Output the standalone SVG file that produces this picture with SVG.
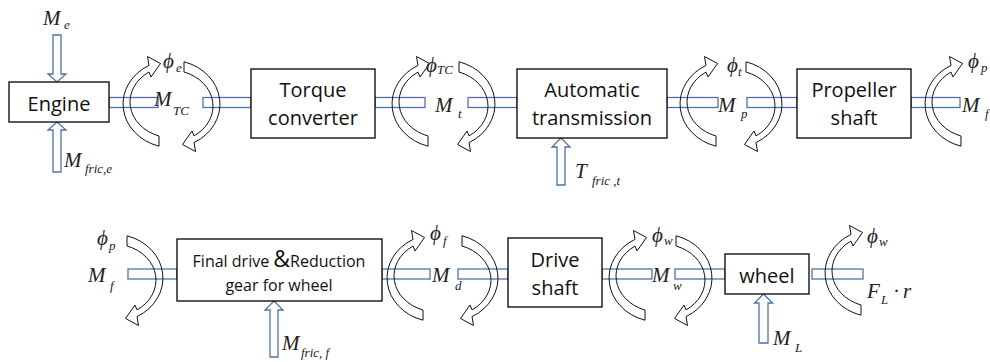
<svg xmlns="http://www.w3.org/2000/svg" xmlns:xlink="http://www.w3.org/1999/xlink" width="990" height="362" viewBox="0 0 990 362">
<style>
.box{fill:#fff;stroke:#000;stroke-width:1.3}
.shaft{fill:none;stroke:#4f73a8;stroke-width:1.3}
.rot{fill:none;stroke:#111;stroke-width:1}
.in{fill:#fff;stroke:#4f73a8;stroke-width:1.3}
.t{font-family:"Open Sans","Liberation Sans",sans-serif;font-size:20px;fill:#111;text-anchor:middle}
.t2{font-family:"Open Sans","Liberation Sans",sans-serif;font-size:16px;fill:#111;text-anchor:middle}
.m{font-family:"Liberation Serif","DejaVu Serif",serif;font-style:italic;font-size:21px;fill:#222}
.s{font-size:13px}
</style>
<defs>
<path id="arcL" d="M -14 42.2 A 50 44 0 0 1 -24 -38.6 L -25.5 -47.5 L -12.5 -40.5 L -22 -27 L -24 -31.9 A 43 36 0 0 0 -14 32 Z"/>
</defs>
<rect width="990" height="362" fill="#fff"/>

<g id="connectors">
  <g id="shafts" class="shaft">
    <rect x="109" y="97.5" width="49" height="10"/>
    <rect x="203" y="97.5" width="48" height="10"/>
    <rect x="375" y="97.5" width="50" height="10"/>
    <rect x="468" y="97.5" width="49" height="10"/>
    <rect x="667" y="97.5" width="51" height="10"/>
    <rect x="747" y="97.5" width="50" height="10"/>
    <rect x="911" y="97.5" width="49" height="10"/>
    <rect x="128" y="269" width="49" height="10"/>
    <rect x="382" y="269" width="48" height="10"/>
    <rect x="458" y="269" width="50" height="10"/>
    <rect x="602" y="269" width="50" height="10"/>
    <rect x="675" y="269" width="50" height="10"/>
    <rect x="812" y="269" width="51" height="10"/>
  </g>
  <g id="rotations" class="rot">
    <use xlink:href="#arcL" transform="translate(173,104)"/>
    <use xlink:href="#arcL" transform="translate(170,104) rotate(180)"/>
    <use xlink:href="#arcL" transform="translate(442,104)"/>
    <use xlink:href="#arcL" transform="translate(445,104) rotate(180)"/>
    <use xlink:href="#arcL" transform="translate(730,104)"/>
    <use xlink:href="#arcL" transform="translate(732,104) rotate(180)"/>
    <use xlink:href="#arcL" transform="translate(975,104)"/>
    <use xlink:href="#arcL" transform="translate(113,278) rotate(180)"/>
    <use xlink:href="#arcL" transform="translate(437,278)"/>
    <use xlink:href="#arcL" transform="translate(448,278) rotate(180)"/>
    <use xlink:href="#arcL" transform="translate(659,278)"/>
    <use xlink:href="#arcL" transform="translate(662,278) rotate(180)"/>
    <use xlink:href="#arcL" transform="translate(875,273)"/>
  </g>
  <g id="inputs" class="in">
    <path d="M 53 35 H 61 V 74 H 66 L 57 82 L 48 74 H 53 Z"/>
    <path d="M 53 172 H 61 V 130 H 66 L 57 122 L 48 130 H 53 Z"/>
    <path d="M 557 185 H 565 V 147 H 570 L 561 138 L 552 147 H 557 Z"/>
    <path d="M 270 357 H 278 V 310 H 283 L 274 301 L 265 310 H 270 Z"/>
    <path d="M 759 343 H 768 V 303 H 772.5 L 763.5 294 L 754.5 303 H 759 Z"/>
  </g>
</g>

<g id="engine">
  <rect class="box" x="9" y="82" width="100" height="40"/>
  <text class="t" x="59" y="111">Engine</text>
</g>
<g id="torque-converter">
  <rect class="box" x="251" y="69" width="124" height="69"/>
  <text class="t" x="313" y="97">Torque</text>
  <text class="t" x="313" y="125">converter</text>
</g>
<g id="automatic-transmission">
  <rect class="box" x="517" y="69" width="150" height="69"/>
  <text class="t" x="592" y="97">Automatic</text>
  <text class="t" x="592" y="125">transmission</text>
</g>
<g id="propeller-shaft">
  <rect class="box" x="797" y="69" width="114" height="69"/>
  <text class="t" x="854" y="97">Propeller</text>
  <text class="t" x="854" y="125">shaft</text>
</g>
<g id="final-drive">
  <rect class="box" x="177" y="239" width="205" height="62"/>
  <text class="t2" x="279" y="267">Final drive <tspan font-size="23px">&amp;</tspan>Reduction</text>
  <text class="t2" x="279" y="291">gear for wheel</text>
</g>
<g id="drive-shaft">
  <rect class="box" x="508" y="238" width="94" height="69"/>
  <text class="t" x="555" y="267">Drive</text>
  <text class="t" x="555" y="295">shaft</text>
</g>
<g id="wheel">
  <rect class="box" x="725" y="254" width="84" height="40"/>
  <text class="t" x="767" y="283">wheel</text>
</g>

<g id="labels" class="m">
  <text x="43" y="25">M<tspan class="s" x="64" y="29">e</tspan></text>
  <text x="64" y="167">M<tspan class="s" x="85" y="173">fric,e</tspan></text>
  <text x="163" y="68">ϕ<tspan class="s" x="176" y="72">e</tspan></text>
  <text x="154" y="106">M<tspan class="s" x="173" y="115">TC</tspan></text>
  <text x="426" y="72">ϕ<tspan class="s" x="437" y="74">TC</tspan></text>
  <text x="435" y="112">M<tspan class="s" x="458" y="118">t</tspan></text>
  <text x="727" y="72">ϕ<tspan class="s" x="738" y="76">t</tspan></text>
  <text x="718" y="112">M<tspan class="s" x="741" y="118">p</tspan></text>
  <text x="968" y="68">ϕ<tspan class="s" x="981" y="72">p</tspan></text>
  <text x="962" y="112">M<tspan class="s" x="985" y="118">f</tspan></text>
  <text x="575" y="178">T<tspan class="s" x="592" y="185">fric ,t</tspan></text>
  <text x="97" y="245">ϕ<tspan class="s" x="109" y="250">p</tspan></text>
  <text x="88" y="282">M<tspan class="s" x="110" y="290">f</tspan></text>
  <text x="430" y="240">ϕ<tspan class="s" x="443" y="245">f</tspan></text>
  <text x="432" y="282">M<tspan class="s" x="455" y="290">d</tspan></text>
  <text x="652" y="242">ϕ<tspan class="s" x="664" y="245">w</tspan></text>
  <text x="652" y="282">M<tspan class="s" x="673" y="290">w</tspan></text>
  <text x="867" y="243">ϕ<tspan class="s" x="879" y="246">w</tspan></text>
  <text x="867" y="298">F<tspan class="s" x="881" y="304">L</tspan><tspan x="893" y="298" font-style="normal">·</tspan><tspan x="903" y="298">r</tspan></text>
  <text x="773" y="345">M<tspan class="s" x="795" y="352">L</tspan></text>
  <text x="282" y="350">M<tspan class="s" x="301" y="357">fric, f</tspan></text>
</g>
</svg>
